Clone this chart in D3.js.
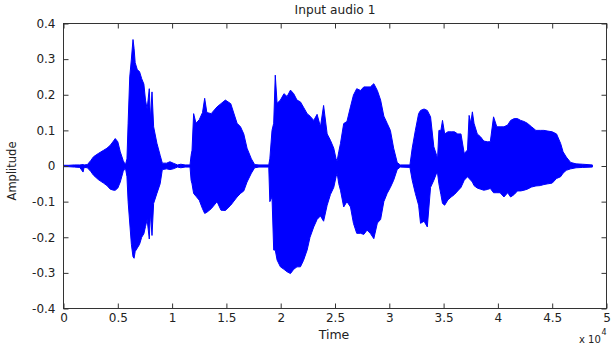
<!DOCTYPE html>
<html><head><meta charset="utf-8">
<script src="https://cdn.jsdelivr.net/npm/d3@7"></script>
<style>body{margin:0;background:#fff}svg{display:block}text{font-family:"DejaVu Sans",sans-serif;fill:#222}</style>
</head><body><svg id="c" width="611" height="347"></svg>
<script>
// sample index where the envelope was read
const sampleIdx = [0,500,1000,1500,1800,1900,2200,2500,2765,3200,3687,4000,4304,4600,4765,5000,5226,5500,5700,
5843,5950,6100,6250,6400,6500,6600,6800,7000,7200,7400,7550,7700,7900,8000,8150,8300,8600,8900,9100,
9500,9800,10100,10500,10800,11200,11650,
11750,11834,11982,12200,12500,12800,13000,13200,13600,14139,14500,14904,15400,15982,16300,16600,16900,17300,17600,
18000,18900,
19000,19200,19355,19500,19668,19972,20300,20590,20900,21198,21500,21816,22100,22434,22700,23042,23350,23660,23950,24277,24581,24885,25100,25199,
25347,25503,25800,26100,26425,26700,27000,27350,27654,27950,28250,28575,28900,29200,29497,29800,30100,30400,30727,
31000,31900,
32110,32400,32700,32877,33200,33500,33799,34100,34352,34444,
34567,34750,34900,35100,35400,35700,36000,36300,36600,36900,37200,37350,37500,37650,37800,38100,38400,38700,39024,39300,39600,39900,40200,40555,40900,41171,41500,41800,42100,42400,42709,43100,43500,43900,44240,44600,45000,45400,45779,46000,46300,46700,47200,47800,48700];
// upper envelope (max amplitude)
const upper = [0.002,0.002,0.003,0.003,0.004,0.003,0.004,0.015,0.026,0.035,0.044,0.050,0.058,0.070,0.077,0.068,0.040,0.015,0.003,
0.02,0.12,0.25,0.30,0.355,0.33,0.29,0.27,0.265,0.245,0.23,0.185,0.16,0.217,0.13,0.208,0.11,0.064,0.03,0.008,
0.008,0.012,0.008,0.003,0.005,0.003,0.003,
0.03,0.044,0.147,0.12,0.13,0.15,0.19,0.15,0.147,0.166,0.175,0.185,0.175,0.12,0.11,0.09,0.05,0.02,0.004,
0.003,0.003,
0.02,0.10,0.12,0.255,0.176,0.185,0.203,0.195,0.213,0.203,0.185,0.18,0.165,0.147,0.14,0.128,0.145,0.11,0.17,0.09,0.072,0.05,0.02,0.015,
0.04,0.063,0.119,0.125,0.166,0.199,0.217,0.212,0.222,0.222,0.222,0.231,0.212,0.185,0.14,0.12,0.10,0.05,0.01,
0.003,0.003,
0.05,0.10,0.147,0.156,0.16,0.156,0.138,0.054,0.03,0.02,
0.10,0.10,0.128,0.09,0.096,0.096,0.096,0.09,0.09,0.035,0.045,0.142,0.12,0.152,0.12,0.09,0.082,0.07,0.068,0.068,0.138,0.11,0.11,0.11,0.115,0.128,0.133,0.133,0.128,0.125,0.12,0.11,0.10,0.10,0.10,0.098,0.096,0.09,0.063,0.04,0.025,0.01,0.006,0.005,0.003];
// lower envelope (min amplitude)
const lower = [-0.002,-0.002,-0.003,-0.004,-0.017,-0.004,-0.005,-0.015,-0.026,-0.038,-0.048,-0.055,-0.065,-0.068,-0.068,-0.062,-0.045,-0.015,-0.005,
-0.03,-0.10,-0.16,-0.22,-0.255,-0.259,-0.24,-0.23,-0.22,-0.20,-0.19,-0.17,-0.15,-0.205,-0.13,-0.195,-0.105,-0.077,-0.05,-0.01,
-0.008,-0.01,-0.008,-0.003,-0.005,-0.003,-0.003,
-0.04,-0.05,-0.077,-0.085,-0.096,-0.12,-0.133,-0.13,-0.12,-0.10,-0.124,-0.125,-0.11,-0.087,-0.077,-0.07,-0.045,-0.02,-0.005,
-0.003,-0.003,
-0.10,-0.087,-0.236,-0.236,-0.264,-0.283,-0.29,-0.297,-0.302,-0.29,-0.283,-0.283,-0.265,-0.236,-0.20,-0.171,-0.15,-0.14,-0.155,-0.11,-0.08,-0.06,-0.03,-0.02,
-0.05,-0.068,-0.115,-0.10,-0.115,-0.161,-0.189,-0.189,-0.192,-0.18,-0.189,-0.204,-0.16,-0.15,-0.10,-0.077,-0.06,-0.04,-0.01,
-0.003,-0.004,
-0.04,-0.077,-0.11,-0.161,-0.155,-0.171,-0.06,-0.04,-0.02,-0.02,
-0.05,-0.08,-0.105,-0.11,-0.095,-0.087,-0.08,-0.07,-0.06,-0.04,-0.03,-0.035,-0.04,-0.045,-0.055,-0.062,-0.065,-0.068,-0.066,-0.063,-0.075,-0.075,-0.075,-0.087,-0.075,-0.087,-0.08,-0.07,-0.07,-0.068,-0.065,-0.059,-0.056,-0.055,-0.052,-0.05,-0.048,-0.035,-0.03,-0.02,-0.012,-0.008,-0.005,-0.004,-0.003];

const xTicks = [0,5000,10000,15000,20000,25000,30000,35000,40000,45000,50000];
const xTickLabels = ["0","0.5","1","1.5","2","2.5","3","3.5","4","4.5","5"];
const yTicks = [-0.4,-0.3,-0.2,-0.1,0,0.1,0.2,0.3,0.4];
const yTickLabels = ["-0.4","-0.3","-0.2","-0.1","0","0.1","0.2","0.3","0.4"];
const titleText = "Input audio 1", xLabel = "Time", yLabel = "Amplitude";

const svg = d3.select("#c");
const L=63.5, R=606.5, T=23.5, B=308.5;
const x = d3.scaleLinear().domain([0,50000]).range([L,R]);
const y = d3.scaleLinear().domain([-0.4,0.4]).range([B,T]);
svg.append("rect").attr("width",611).attr("height",347).attr("fill","#fff");

const data = sampleIdx.map((s,i)=>({s, u:upper[i], l:lower[i]}));
const area = d3.area().x(d=>x(d.s)).y0(d=>y(d.l)).y1(d=>y(d.u));
svg.append("path").datum(data).attr("d",area).attr("fill","#0000ff").attr("stroke","#0000ff").attr("stroke-width",1);

const axCol="#333";
svg.append("rect").attr("x",L).attr("y",T).attr("width",R-L).attr("height",B-T).attr("fill","none").attr("stroke",axCol).attr("stroke-width",1);
const tl=5;
const gx = svg.append("g").attr("transform",`translate(0,${B})`)
 .call(d3.axisBottom(x).tickValues(xTicks).tickFormat((d,i)=>xTickLabels[i]).tickSizeInner(-tl).tickSizeOuter(0).tickPadding(5));
const gxt = svg.append("g").attr("transform",`translate(0,${T})`)
 .call(d3.axisTop(x).tickValues(xTicks).tickFormat("").tickSizeInner(-tl).tickSizeOuter(0));
const gy = svg.append("g").attr("transform",`translate(${L},0)`)
 .call(d3.axisLeft(y).tickValues(yTicks).tickFormat((d,i)=>yTickLabels[i]).tickSizeInner(-tl).tickSizeOuter(0).tickPadding(8));
const gyr = svg.append("g").attr("transform",`translate(${R},0)`)
 .call(d3.axisRight(y).tickValues(yTicks).tickFormat("").tickSizeInner(-tl).tickSizeOuter(0));
[gx,gxt,gy,gyr].forEach(g=>{g.select(".domain").remove();g.selectAll("line").attr("stroke",axCol);g.selectAll("text").attr("font-size","12px").attr("fill","#222").attr("font-family","DejaVu Sans, sans-serif");});

svg.append("text").attr("x",(L+R)/2).attr("y",14).attr("text-anchor","middle").attr("font-size","12.2px").text(titleText);
svg.append("text").attr("x",334).attr("y",338.5).attr("text-anchor","middle").attr("font-size","12.5px").text(xLabel);
svg.append("text").attr("transform","translate(16,171) rotate(-90)").attr("text-anchor","middle").attr("font-size","11.5px").text(yLabel);
svg.append("text").attr("x",579).attr("y",343).attr("font-size","10px").attr("font-family","Liberation Sans, Arial, sans-serif").text("x 10");
svg.append("text").attr("x",601.5).attr("y",334.5).attr("font-size","8px").attr("font-family","Liberation Sans, Arial, sans-serif").text("4");
</script></body></html>
